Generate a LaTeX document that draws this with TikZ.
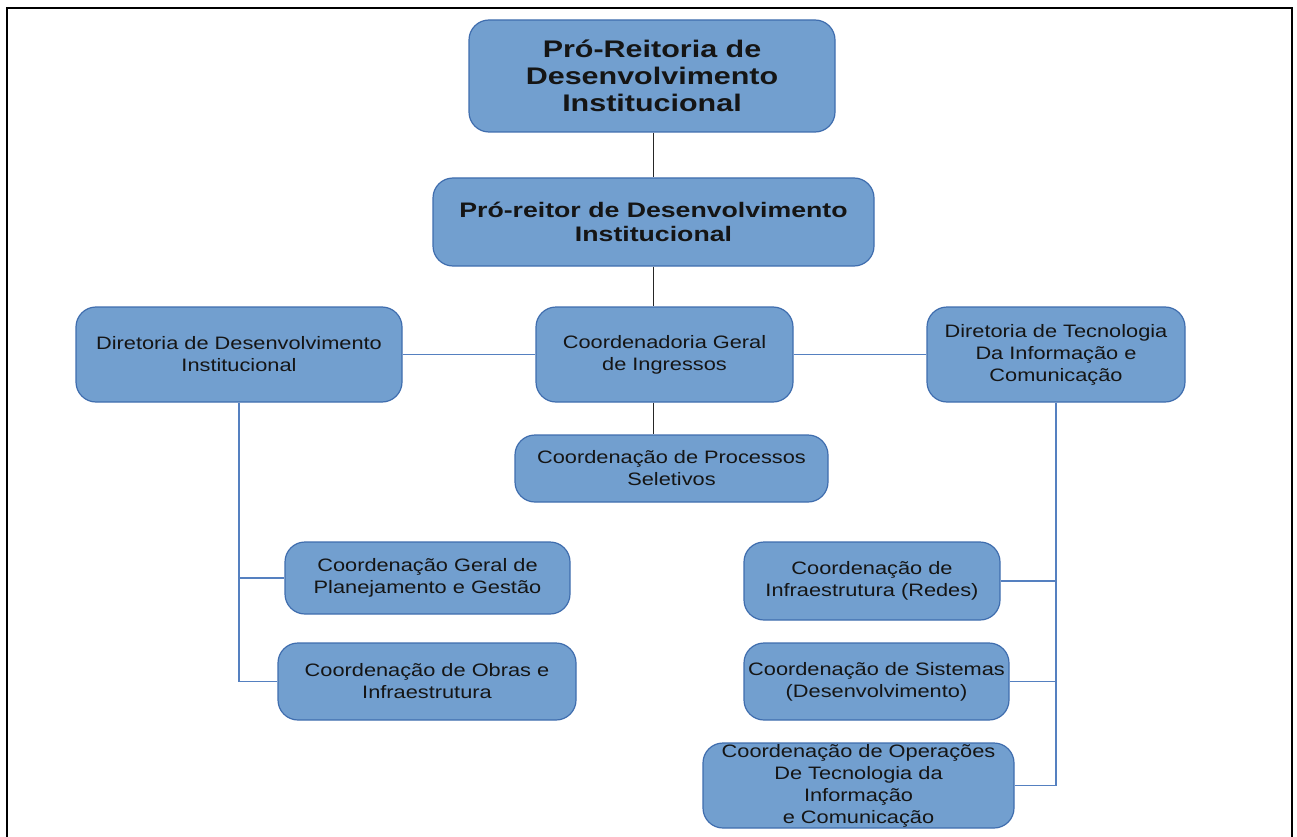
\documentclass[tikz,border=0pt]{standalone}
\usepackage{fontspec}
\setmainfont{Liberation Sans}[FakeStretch=1.21, BoldFeatures={FakeStretch=1.27}]
\definecolor{boxfill}{HTML}{729FCF}
\definecolor{boxline}{HTML}{3F6DAE}
\definecolor{conn}{HTML}{5580C0}
\definecolor{txt}{HTML}{151515}
\begin{document}
\begin{tikzpicture}[x=1pt,y=-1pt,
  box/.style={draw=boxline, line width=1.2pt, fill=boxfill, rounded corners=20pt,
    align=center, inner sep=0pt, text=txt, font=\fontsize{18}{22}\selectfont},
  bigbox/.style={box, font=\bfseries\fontsize{21}{23.5}\selectfont},
  hugebox/.style={box, font=\bfseries\fontsize{24}{27}\selectfont},
  blk/.style={draw=black!85, line width=1.3pt},
  bl/.style={draw=conn, line width=1.4pt}]
\useasboundingbox (0,0) rectangle (1297,837);
\draw[line width=2pt] (7,860) -- (7,8) -- (1292,8) -- (1292,860);

\node[hugebox, minimum width=366pt, minimum height=112pt] (top) at (652,76)
  {Pró-Reitoria de\\Desenvolvimento\\Institucional};
\node[bigbox, minimum width=441pt, minimum height=88pt] (rei) at (653.5,222)
  {Pró-reitor de Desenvolvimento\\Institucional};
\node[box, minimum width=326pt, minimum height=95pt] (dd) at (239,354.5)
  {Diretoria de Desenvolvimento\\Institucional};
\node[box, minimum width=257pt, minimum height=95pt] (cg) at (664.5,354.5)
  {Coordenadoria Geral\\de Ingressos};
\node[box, minimum width=258pt, minimum height=95pt] (dt) at (1056,354.5)
  {Diretoria de Tecnologia\\Da Informação e\\Comunicação};
\node[box, minimum width=313pt, minimum height=67pt] (ps) at (671.5,468.5)
  {Coordenação de Processos\\Seletivos};
\node[box, minimum width=285pt, minimum height=72pt] (pg) at (427.5,578)
  {Coordenação Geral de\\Planejamento e Gestão};
\node[box, minimum width=298pt, minimum height=77pt] (ob) at (427,681.5)
  {Coordenação de Obras e\\Infraestrutura};
\node[box, minimum width=256pt, minimum height=78pt] (inf) at (872,581)
  {Coordenação de\\Infraestrutura (Redes)};
\node[box, minimum width=265pt, minimum height=77pt] (sis) at (876.5,681.5)
  {Coordenação de Sistemas\\(Desenvolvimento)};
\node[box, minimum width=311pt, minimum height=85pt] (op) at (858.5,785.5)
  {Coordenação de Operações\\De Tecnologia da\\Informação\\e Comunicação};

\draw[blk] (rei.north |- top.south) -- (rei.north);
\draw[blk] (rei.south) -- (rei.south |- cg.north);
\draw[blk] (rei.south |- cg.south) -- (rei.south |- ps.north);
\draw[bl] (dd.east) -- (cg.west);
\draw[bl] (cg.east) -- (dt.west);
\draw[bl] (dd.south) -- (dd.south |- ob.west) -- (ob.west);
\draw[bl] (dd.south |- pg.west) -- (pg.west);
\draw[bl] (dt.south) -- (dt.south |- op.east) -- (op.east);
\draw[bl] (inf.east) -- (inf.east -| dt.south);
\draw[bl] (sis.east) -- (sis.east -| dt.south);
\end{tikzpicture}
\end{document}
